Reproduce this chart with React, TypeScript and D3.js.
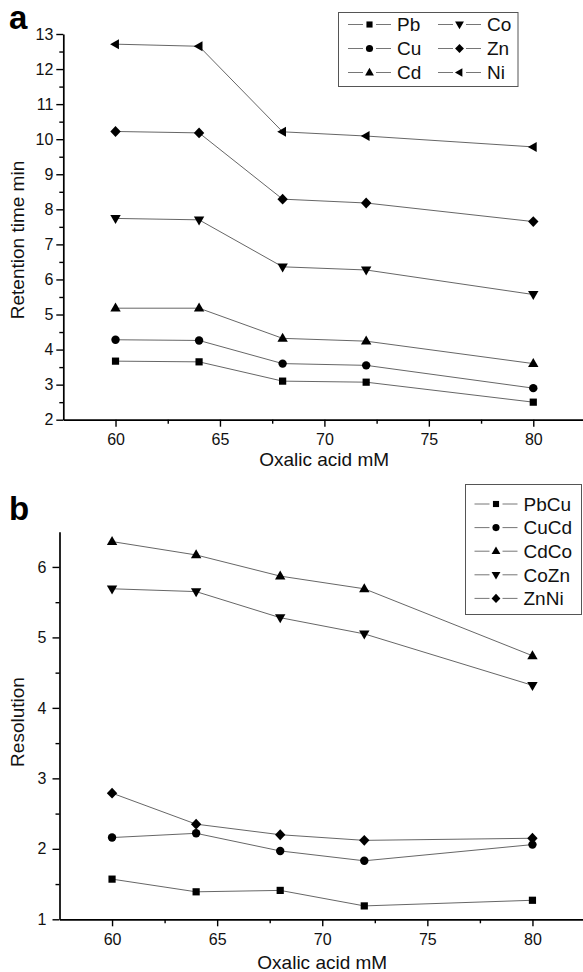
import React, { useRef, useEffect } from 'react';
import * as d3 from 'd3';

// oxalic acid concentration, mM
const oxalic = [60, 64, 68, 72, 80];

// panel a: retention time, min
const pbTime = [3.67, 3.65, 3.1, 3.07, 2.5];
const cuTime = [4.28, 4.26, 3.6, 3.55, 2.9];
const cdTime = [5.18, 5.18, 4.32, 4.24, 3.6];
const coTime = [7.74, 7.7, 6.36, 6.27, 5.57];
const znTime = [10.22, 10.18, 8.29, 8.18, 7.65];
const niTime = [12.71, 12.65, 10.21, 10.09, 9.78];

// panel b: resolution between neighbouring peaks
const pbCu = [1.57, 1.39, 1.41, 1.19, 1.27];
const cuCd = [2.16, 2.22, 1.97, 1.83, 2.06];
const cdCo = [6.36, 6.17, 5.87, 5.69, 4.74];
const coZn = [5.69, 5.65, 5.28, 5.05, 4.32];
const znNi = [2.79, 2.35, 2.2, 2.12, 2.15];

const xMajor = [60, 65, 70, 75, 80];
const xMinor = [62.5, 67.5, 72.5, 77.5, 82.5];
const timeTicks = d3.range(2, 14);
const resTicks = [1, 2, 3, 4, 5, 6];

const FONT = '"Liberation Sans", Arial, sans-serif';

// marker outlines, centred on 0,0
const markers: Record<string, string> = {
  square: 'M-3.6,-3.6H3.6V3.6H-3.6Z',
  circle: 'M-4.2,0A4.2,4.2 0 1,0 4.2,0A4.2,4.2 0 1,0 -4.2,0Z',
  up: 'M0,-5.6L5.2,3.4L-5.2,3.4Z',
  down: 'M0,5.6L5.2,-3.4L-5.2,-3.4Z',
  diamond: 'M0,-5.4L5.2,0L0,5.4L-5.2,0Z',
  left: 'M-5.4,0L3.4,-5L3.4,5Z',
};

const seriesA = [
  { name: 'Pb', values: pbTime, marker: 'square' },
  { name: 'Cu', values: cuTime, marker: 'circle' },
  { name: 'Cd', values: cdTime, marker: 'up' },
  { name: 'Co', values: coTime, marker: 'down' },
  { name: 'Zn', values: znTime, marker: 'diamond' },
  { name: 'Ni', values: niTime, marker: 'left' },
];

const seriesB = [
  { name: 'PbCu', values: pbCu, marker: 'square' },
  { name: 'CuCd', values: cuCd, marker: 'circle' },
  { name: 'CdCo', values: cdCo, marker: 'up' },
  { name: 'CoZn', values: coZn, marker: 'down' },
  { name: 'ZnNi', values: znNi, marker: 'diamond' },
];

function drawPanel(svg, opts) {
  const { letter, letterY, xRange, yDomain, yRange, yTicks, yMinor, series, yTitle, yTitleY, yPad, xTitleY } = opts;
  const x = d3.scaleLinear().domain([57.5, 82.5]).range(xRange);
  const y = d3.scaleLinear().domain(yDomain).range(yRange);
  const g = svg.append('g');

  // lines + markers
  const line = d3.line<number>().x((d, i) => x(oxalic[i])).y((d) => y(d));
  series.forEach((s) => {
    g.append('path')
      .attr('d', line(s.values))
      .attr('fill', 'none')
      .attr('stroke', '#555')
      .attr('stroke-width', 0.9);
    g.selectAll(null)
      .data(s.values)
      .join('path')
      .attr('d', markers[s.marker])
      .attr('transform', (d, i) => `translate(${x(oxalic[i])},${y(d)})`)
      .attr('fill', '#000');
  });

  // x axis
  const xAxis = g.append('g').attr('transform', `translate(0,${yRange[0]})`);
  xAxis.call(d3.axisBottom(x).tickValues(xMajor).tickSize(7).tickSizeOuter(0).tickPadding(7).tickFormat(d3.format('d')));
  xAxis.append('g').call(d3.axisBottom(x).tickValues(xMinor).tickSize(4).tickFormat(() => ''))
    .call((a) => a.select('.domain').remove());

  // y axis
  const yAxis = g.append('g').attr('transform', `translate(${xRange[0]},0)`);
  yAxis.call(d3.axisLeft(y).tickValues(yTicks).tickSize(7).tickSizeOuter(0).tickPadding(yPad).tickFormat(d3.format('d')));
  yAxis.append('g').call(d3.axisLeft(y).tickValues(yMinor).tickSize(4).tickFormat(() => ''))
    .call((a) => a.select('.domain').remove());

  [xAxis, yAxis].forEach((a) => {
    a.attr('font-family', FONT).attr('font-size', 16);
    a.selectAll('path.domain').attr('stroke', '#000').attr('stroke-width', 1.7);
    a.selectAll('line').attr('stroke', '#000').attr('stroke-width', 1.4);
    a.selectAll('text').attr('fill', '#111');
  });

  g.append('text')
    .attr('x', (xRange[0] + 585) / 2)
    .attr('y', xTitleY)
    .attr('text-anchor', 'middle')
    .attr('font-family', FONT)
    .attr('font-size', 19)
    .attr('fill', '#111')
    .text('Oxalic acid mM');

  g.append('text')
    .attr('transform', `translate(24,${yTitleY}) rotate(-90)`)
    .attr('text-anchor', 'middle')
    .attr('font-family', FONT)
    .attr('font-size', 19)
    .attr('fill', '#111')
    .text(yTitle);

  g.append('text')
    .attr('x', 9)
    .attr('y', letterY)
    .attr('font-family', FONT)
    .attr('font-weight', 'bold')
    .attr('font-size', 33)
    .attr('fill', '#000')
    .text(letter);
}

function drawLegend(svg, items, box, cols) {
  const g = svg.append('g');
  g.append('rect')
    .attr('x', box.x)
    .attr('y', box.y)
    .attr('width', box.w)
    .attr('height', box.h)
    .attr('fill', '#fff')
    .attr('stroke', '#555')
    .attr('stroke-width', 1);
  items.forEach((s, i) => {
    const c = cols[i];
    const row = g.append('g').attr('transform', `translate(${c.x},${c.y})`);
    row.append('line').attr('x1', 0).attr('x2', 15).attr('stroke', '#666').attr('stroke-width', 0.9);
    row.append('line').attr('x1', 28).attr('x2', 43).attr('stroke', '#666').attr('stroke-width', 0.9);
    row.append('path').attr('d', markers[s.marker]).attr('transform', 'translate(21.5,0) scale(0.85)').attr('fill', '#000');
    row.append('text')
      .attr('x', 49)
      .attr('dy', '0.36em')
      .attr('font-family', FONT)
      .attr('font-size', 19)
      .attr('fill', '#111')
      .text(s.name);
  });
}

export default function App() {
  const ref = useRef<SVGSVGElement>(null);

  useEffect(() => {
    const svg = d3.select(ref.current);
    svg.selectAll('*').remove();

    drawPanel(svg, {
      letter: 'a',
      letterY: 29,
      xRange: [63.3, 585.5],
      yDomain: [2, 13],
      yRange: [419.7, 34],
      yTicks: timeTicks,
      yMinor: d3.range(2.5, 13, 1),
      series: seriesA,
      yTitle: 'Retention time min',
      yTitleY: 240,
      yPad: 3,
      xTitleY: 466,
    });

    drawPanel(svg, {
      letter: 'b',
      letterY: 520,
      xRange: [59.5, 585],
      yDomain: [1, 6.5],
      yRange: [919.3, 531.7],
      yTicks: resTicks,
      yMinor: [1.5, 2.5, 3.5, 4.5, 5.5],
      series: seriesB,
      yTitle: 'Resolution',
      yTitleY: 722,
      yPad: 6,
      xTitleY: 969,
    });

    // legend a: two columns of three
    const aOrder = ['Pb', 'Cu', 'Cd', 'Co', 'Zn', 'Ni'];
    drawLegend(
      svg,
      aOrder.map((n) => seriesA.find((s) => s.name === n)),
      { x: 338.5, y: 12.5, w: 179.5, h: 74 },
      aOrder.map((n, i) => ({ x: i < 3 ? 348 : 438, y: 24.5 + (i % 3) * 24 }))
    );

    drawLegend(
      svg,
      seriesB,
      { x: 465.5, y: 484.5, w: 116, h: 130 },
      seriesB.map((s, i) => ({ x: 474.5, y: 504 + i * 23.6 }))
    );
  }, []);

  return (
    <svg
      ref={ref}
      width={583}
      height={972}
      style={{ position: 'absolute', left: 0, top: 0, background: '#fff' }}
    />
  );
}
